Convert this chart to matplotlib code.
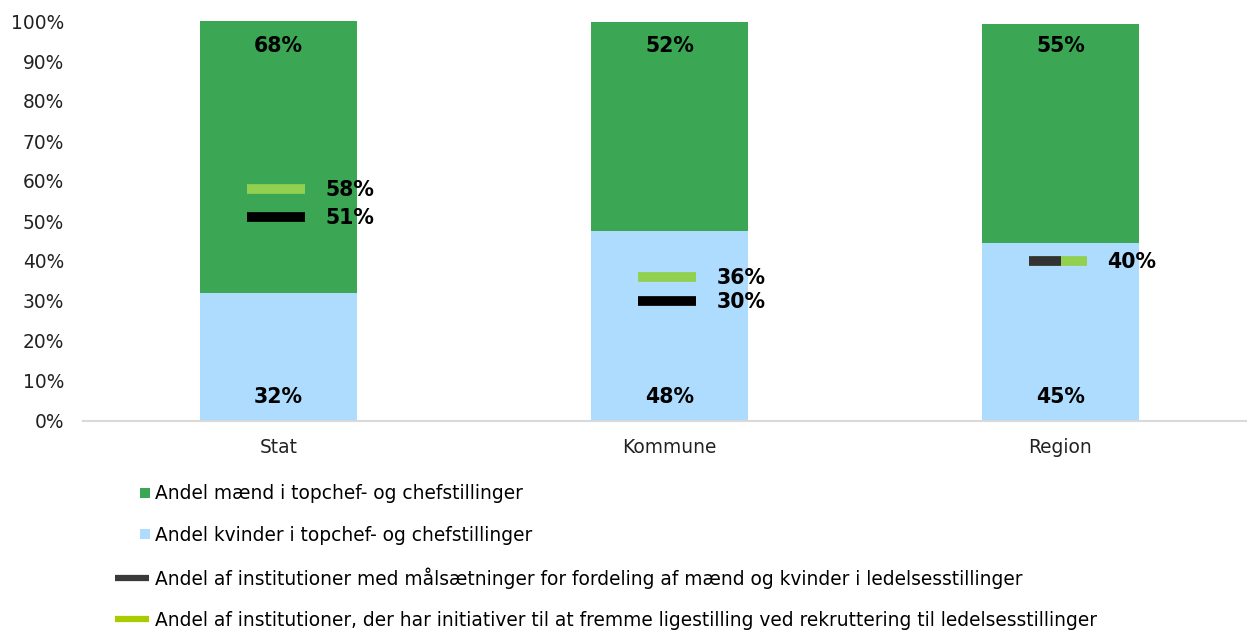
import matplotlib
matplotlib.use("Agg")
import matplotlib.pyplot as plt
from matplotlib.lines import Line2D
from matplotlib.patches import Rectangle
from matplotlib.legend_handler import HandlerBase
import numpy as np

categories = ["Stat", "Kommune", "Region"]
women = [0.32, 0.475, 0.445]
men = [0.68, 0.523, 0.548]
women_labels = ["32%", "48%", "45%"]
men_labels = ["68%", "52%", "55%"]
targets = [0.51, 0.30, 0.40]          # målsætninger
initiatives = [0.58, 0.36, 0.40]      # rekruttering

legend_labels = [
    "Andel mænd i topchef- og chefstillinger",
    "Andel kvinder i topchef- og chefstillinger",
    "Andel af institutioner med målsætninger for fordeling af mænd og kvinder i ledelsesstillinger",
    "Andel af institutioner, der har initiativer til at fremme ligestilling ved rekruttering til ledelsesstillinger",
]

GREEN = "#3ba653"
BLUE = "#addcfe"
LIGHTGREEN = "#92d050"

plt.rcParams['font.family'] = ['DejaVu Sans']

fig = plt.figure(figsize=(12.47, 6.30), dpi=100)
# one category is ~391 px wide, axis starts at x=83
ax = fig.add_axes([83 / 1247, 209 / 630, 3 * 391 / 1247, 400 / 630])

x = np.arange(len(categories))
w = 0.4
ax.bar(x, women, w, color=BLUE, zorder=2)
ax.bar(x, men, w, bottom=women, color=GREEN, zorder=2)

LBL = 14.8
for i in range(len(categories)):
    ax.text(x[i], 0.06, women_labels[i], ha="center", va="center",
            fontsize=LBL, fontweight="bold", zorder=5)
    ax.text(x[i], 0.937, men_labels[i], ha="center",
            va="center", fontsize=LBL, fontweight="bold", zorder=5)

# small dash markers for the two institution shares
half = 0.074
for i in range(len(categories)):
    cx = x[i] - 0.006
    if targets[i] == initiatives[i]:
        ax.hlines(initiatives[i], cx - half + 0.01, cx + half, color=LIGHTGREEN,
                  lw=7, zorder=3)
        ax.hlines(targets[i], cx - half, cx - half + 0.08, color="#333333",
                  lw=7, zorder=4)
        ax.text(x[i] + 0.12, targets[i] - 0.002, f"{targets[i]:.0%}",
                ha="left", va="center", fontsize=LBL, fontweight="bold", zorder=5)
    else:
        ax.hlines(initiatives[i], cx - half, cx + half, color=LIGHTGREEN,
                  lw=7, zorder=3)
        ax.hlines(targets[i], cx - half, cx + half, color="black", lw=7, zorder=3)
        ax.text(x[i] + 0.12, initiatives[i] - 0.002, f"{initiatives[i]:.0%}",
                ha="left", va="center", fontsize=LBL, fontweight="bold", zorder=5)
        ax.text(x[i] + 0.12, targets[i] - 0.002, f"{targets[i]:.0%}",
                ha="left", va="center", fontsize=LBL, fontweight="bold", zorder=5)

ax.set_xlim(-0.5, 2.5)
ax.set_ylim(0, 1)
ax.set_yticks(np.arange(0, 1.01, 0.1))
ax.set_yticklabels([f"{int(round(v * 100))}%" for v in np.arange(0, 1.01, 0.1)])
ax.set_xticks(x)
ax.set_xticklabels(categories)
ax.tick_params(axis="both", length=0, labelsize=13.4, colors="#222222")
ax.tick_params(axis="y", pad=13.5)
ax.tick_params(axis="x", pad=12)
for s in ["top", "right", "left"]:
    ax.spines[s].set_visible(False)
ax.spines["bottom"].set_color("#d9d9d9")
ax.spines["bottom"].set_linewidth(1.5)


class SmallSquare(HandlerBase):
    def create_artists(self, legend, orig_handle, xdescent, ydescent,
                       width, height, fontsize, trans):
        s = height * 0.8
        r = Rectangle((width - s + 1, (height - s) / 2 - ydescent), s, s,
                      facecolor=orig_handle.get_facecolor(), transform=trans)
        return [r]


handles = [
    Rectangle((0, 0), 1, 1, facecolor=GREEN),
    Rectangle((0, 0), 1, 1, facecolor=BLUE),
    Line2D([], [], color="#3a3a3a", lw=4.5, solid_capstyle="butt"),
    Line2D([], [], color="#a9cc00", lw=4.5, solid_capstyle="butt"),
]
fig.legend(handles, legend_labels, loc="upper left",
           bbox_to_anchor=(108 / 1247, 1 - 477 / 630), frameon=False,
           fontsize=13.4, handlelength=1.8, handletextpad=0.35,
           labelspacing=1.2, borderaxespad=0,
           handler_map={Rectangle: SmallSquare()})

fig.savefig("out.png", dpi=100)
